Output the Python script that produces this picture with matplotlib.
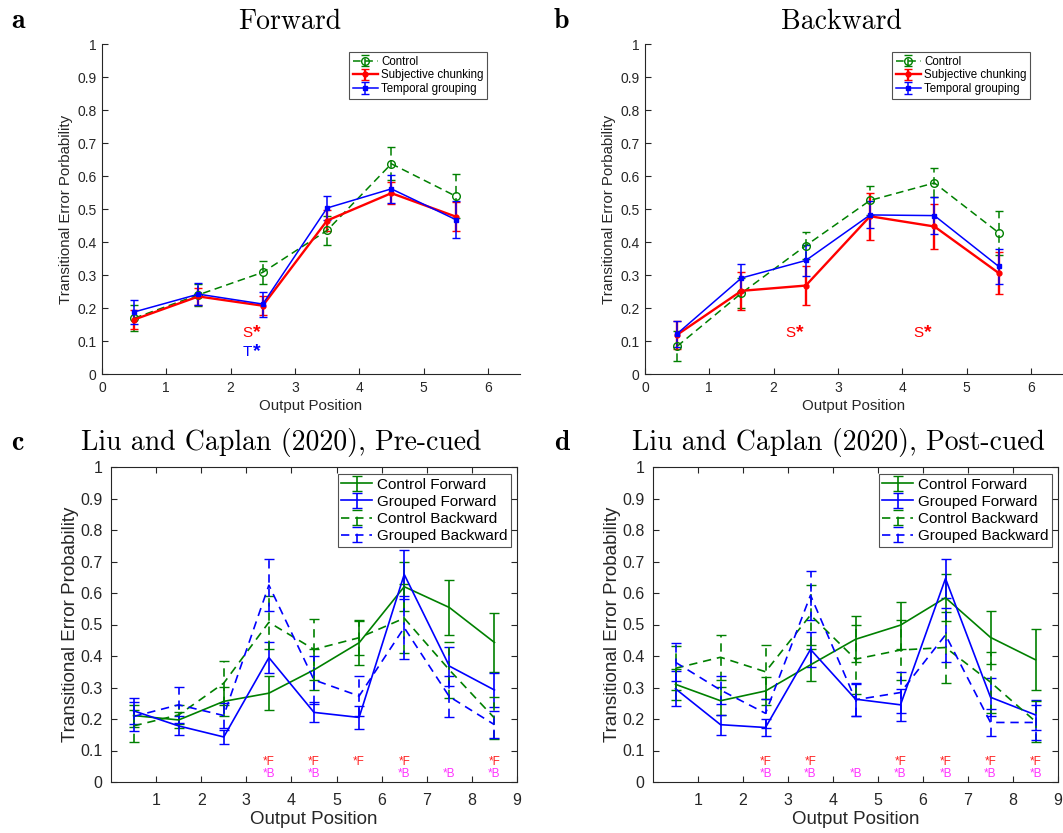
import matplotlib
matplotlib.use("Agg")
import matplotlib.pyplot as plt

plt.rcParams['font.family'] = ['Liberation Sans', 'DejaVu Sans']

# ---------------- data: panels a / b ----------------
pos_ab = [0.5, 1.5, 2.5, 3.5, 4.5, 5.5]
ab_labels = ["Control", "Subjective chunking", "Temporal grouping"]

fwd_control = [0.169, 0.240, 0.308, 0.435, 0.637, 0.539]
fwd_control_err = [0.040, 0.034, 0.034, 0.043, 0.050, 0.067]
fwd_subj = [0.165, 0.235, 0.207, 0.465, 0.548, 0.477]
fwd_subj_err = [0.030, 0.025, 0.028, 0.032, 0.034, 0.043]
fwd_temp = [0.188, 0.242, 0.212, 0.503, 0.561, 0.468]
fwd_temp_err = [0.035, 0.033, 0.038, 0.037, 0.042, 0.056]

bwd_control = [0.084, 0.245, 0.389, 0.526, 0.579, 0.428]
bwd_control_err = [0.045, 0.045, 0.042, 0.043, 0.044, 0.066]
bwd_subj = [0.119, 0.252, 0.268, 0.478, 0.447, 0.306]
bwd_subj_err = [0.043, 0.058, 0.060, 0.071, 0.069, 0.064]
bwd_temp = [0.122, 0.291, 0.344, 0.482, 0.480, 0.326]
bwd_temp_err = [0.040, 0.042, 0.048, 0.041, 0.056, 0.053]

# significance marks (panel a, b)
fwd_sig_S_x = [2.5]
fwd_sig_T_x = [2.5]
bwd_sig_S_x = [2.5, 4.5]

# ---------------- data: panels c / d ----------------
pos_cd = [0.5, 1.5, 2.5, 3.5, 4.5, 5.5, 6.5, 7.5, 8.5]
cd_labels = ["Control Forward", "Grouped Forward", "Control Backward", "Grouped Backward"]

pre_cf = [0.211, 0.197, 0.256, 0.282, 0.356, 0.442, 0.620, 0.554, 0.443]
pre_cf_err = [0.035, 0.025, 0.045, 0.054, 0.065, 0.070, 0.078, 0.088, 0.094]
pre_gf = [0.226, 0.178, 0.143, 0.395, 0.221, 0.205, 0.659, 0.368, 0.292]
pre_gf_err = [0.042, 0.030, 0.022, 0.050, 0.032, 0.037, 0.077, 0.062, 0.053]
pre_cb = [0.178, 0.213, 0.314, 0.507, 0.421, 0.458, 0.520, 0.356, 0.203]
pre_cb_err = [0.050, 0.030, 0.070, 0.085, 0.097, 0.055, 0.110, 0.090, 0.066]
pre_gb = [0.208, 0.245, 0.211, 0.625, 0.324, 0.273, 0.490, 0.271, 0.182]
pre_gb_err = [0.045, 0.058, 0.040, 0.083, 0.075, 0.065, 0.100, 0.064, 0.043]

post_cf = [0.310, 0.258, 0.289, 0.372, 0.453, 0.498, 0.585, 0.459, 0.388]
post_cf_err = [0.050, 0.045, 0.045, 0.050, 0.073, 0.075, 0.075, 0.084, 0.097]
post_gf = [0.296, 0.182, 0.173, 0.421, 0.263, 0.245, 0.646, 0.269, 0.213]
post_gf_err = [0.055, 0.032, 0.027, 0.056, 0.052, 0.050, 0.062, 0.060, 0.048]
post_cb = [0.361, 0.396, 0.350, 0.530, 0.390, 0.419, 0.427, 0.317, 0.192]
post_cb_err = [0.070, 0.072, 0.085, 0.095, 0.110, 0.096, 0.112, 0.097, 0.064]
post_gb = [0.380, 0.292, 0.218, 0.593, 0.261, 0.284, 0.467, 0.189, 0.189]
post_gb_err = [0.060, 0.045, 0.045, 0.078, 0.050, 0.065, 0.085, 0.043, 0.057]

pre_F_x = [3.5, 4.5, 5.5, 6.5, 8.5]
pre_B_x = [3.5, 4.5, 6.5, 7.5, 8.5]
post_F_x = [2.5, 3.5, 5.5, 6.5, 7.5, 8.5]
post_B_x = [2.5, 3.5, 4.5, 5.5, 6.5, 7.5, 8.5]

yticks = [0, 0.1, 0.2, 0.3, 0.4, 0.5, 0.6, 0.7, 0.8, 0.9, 1]
ytick_labels = ["0", "0.1", "0.2", "0.3", "0.4", "0.5", "0.6", "0.7", "0.8", "0.9", "1"]

GREEN = "#008000"
RED = "#ff0000"
BLUE = "#0000ff"
AXC = "#262626"

W, H = 1063, 833
fig = plt.figure(figsize=(W / 100, H / 100), dpi=100)


def px_axes(l, t, r, b):
    return fig.add_axes([l / W, 1 - b / H, (r - l) / W, (b - t) / H])


def ebar(ax, x, y, e, color, dashed, marker, ms, mfc, lw, cap, label, dash):
    ls = (0, dash) if dashed else '-'
    c = ax.errorbar(x, y, yerr=e, color=color, lw=lw, ls=ls, marker=marker,
                    ms=ms, mfc=mfc, mec=color, mew=1.0, capsize=cap,
                    capthick=lw, elinewidth=lw, label=label)
    if dashed:
        c[2][0].set_linestyle(ls)
    return c


def style_axes(ax, box, tsize, xpad, ypad):
    for s in ax.spines.values():
        s.set_color(AXC)
        s.set_linewidth(0.8)
    if not box:
        ax.spines['top'].set_visible(False)
        ax.spines['right'].set_visible(False)
    ax.tick_params(direction='in', length=4, width=0.8, colors=AXC,
                   labelsize=tsize, labelcolor=AXC, top=box, right=box)
    ax.tick_params(axis='x', pad=xpad)
    ax.tick_params(axis='y', pad=ypad)
    ax.set_ylim(0, 1)
    ax.set_yticks(yticks)
    ax.set_yticklabels(ytick_labels)


# ---------------- panels a, b ----------------
def top_panel(ax, ctrl, ctrl_e, subj, subj_e, temp, temp_e):
    ebar(ax, pos_ab, ctrl, ctrl_e, GREEN, True, 'o', 5.5, 'none', 1.1, 3, ab_labels[0], (5, 3))
    ebar(ax, pos_ab, subj, subj_e, RED, False, '.', 7, RED, 1.7, 3, ab_labels[1], None)
    ebar(ax, pos_ab, temp, temp_e, BLUE, False, 's', 3.5, BLUE, 1.1, 3, ab_labels[2], None)
    style_axes(ax, False, 10, 5, 4)
    ax.set_xlim(0, 6.5)
    ax.set_xticks([0, 1, 2, 3, 4, 5, 6])
    ax.set_xlabel("Output Position", fontsize=10.8, color=AXC, labelpad=3)
    ax.set_ylabel("Transitional Error Porbability", fontsize=10.8, color=AXC, labelpad=3)
    leg = ax.legend(loc='upper right', bbox_to_anchor=(0.922, 0.975), fontsize=8.3,
                    frameon=True, fancybox=False, handlelength=2.2, handletextpad=0.3,
                    borderpad=0.3, labelspacing=0.15, borderaxespad=0)
    leg.get_frame().set_edgecolor(AXC)
    leg.get_frame().set_linewidth(0.8)


def sig(ax, x, y, letter, color):
    ax.text(x - 0.32, y, letter, color=color, fontsize=11, ha='left', va='baseline')
    ax.annotate("*", xy=(x - 0.32, y), xytext=(7.5, 0), textcoords='offset points',
                color=color, fontsize=14, fontweight='bold', ha='left', va='baseline')


axa = px_axes(102, 44, 520, 374)
top_panel(axa, fwd_control, fwd_control_err, fwd_subj, fwd_subj_err, fwd_temp, fwd_temp_err)
for x in fwd_sig_S_x:
    sig(axa, x, 0.112, "S", RED)
for x in fwd_sig_T_x:
    sig(axa, x, 0.055, "T", BLUE)

axb = px_axes(645, 44, 1063, 374)
top_panel(axb, bwd_control, bwd_control_err, bwd_subj, bwd_subj_err, bwd_temp, bwd_temp_err)
for x in bwd_sig_S_x:
    sig(axb, x, 0.112, "S", RED)


# ---------------- panels c, d ----------------
def bottom_panel(ax, cf, cfe, gf, gfe, cb, cbe, gb, gbe, fx, bx):
    d = (5, 3.5)
    ebar(ax, pos_cd, cf, cfe, GREEN, False, None, 0, 'none', 1.2, 3.5, cd_labels[0], None)
    ebar(ax, pos_cd, gf, gfe, BLUE, False, None, 0, 'none', 1.2, 3.5, cd_labels[1], None)
    ebar(ax, pos_cd, cb, cbe, GREEN, True, None, 0, 'none', 1.2, 3.5, cd_labels[2], d)
    ebar(ax, pos_cd, gb, gbe, BLUE, True, None, 0, 'none', 1.2, 3.5, cd_labels[3], d)
    style_axes(ax, True, 11.5, 8, 6)
    ax.set_xlim(0, 9)
    ax.set_xticks([1, 2, 3, 4, 5, 6, 7, 8, 9])
    ax.set_xlabel("Output Position", fontsize=13.5, color=AXC, labelpad=2)
    ax.set_ylabel("Transitional Error Probability", fontsize=13.5, color=AXC, labelpad=1)
    leg = ax.legend(loc='upper right', bbox_to_anchor=(0.985, 0.978), fontsize=11,
                    frameon=True, fancybox=False, handlelength=2.0, handletextpad=0.3,
                    borderpad=0.25, labelspacing=0.2, borderaxespad=0)
    leg.get_frame().set_edgecolor(AXC)
    leg.get_frame().set_linewidth(0.8)
    for x in fx:
        ax.text(x, 0.053, "*F", color="#ff2020", fontsize=8.5, ha='center', va='baseline')
    for x in bx:
        ax.text(x, 0.016, "*B", color="#ff30ff", fontsize=8.5, ha='center', va='baseline')


axc = px_axes(111, 467, 517, 782)
bottom_panel(axc, pre_cf, pre_cf_err, pre_gf, pre_gf_err, pre_cb, pre_cb_err,
             pre_gb, pre_gb_err, pre_F_x, pre_B_x)

axd = px_axes(653, 467, 1058, 782)
bottom_panel(axd, post_cf, post_cf_err, post_gf, post_gf_err, post_cb, post_cb_err,
             post_gb, post_gb_err, post_F_x, post_B_x)

# ---------------- titles & panel letters ----------------
def ftext(xpx, ypx, s, **kw):
    fig.text(xpx / W, 1 - ypx / H, s, va='baseline', **kw)

ftext(290, 29, "Forward", ha='center', fontsize=20, family='cmr10')
ftext(841, 29, "Backward", ha='center', fontsize=20, family='cmr10')
ftext(281, 450, "Liu and Caplan (2020), Pre-cued", ha='center', fontsize=20, family='cmr10')
ftext(838, 450, "Liu and Caplan (2020), Post-cued", ha='center', fontsize=20, family='cmr10')
ftext(11, 28, "a", ha='left', fontsize=20, family='cmb10')
ftext(554, 28, "b", ha='left', fontsize=20, family='cmb10')
ftext(11, 450, "c", ha='left', fontsize=20, family='cmb10')
ftext(554, 450, "d", ha='left', fontsize=20, family='cmb10')

fig.savefig("out.png", dpi=100)
